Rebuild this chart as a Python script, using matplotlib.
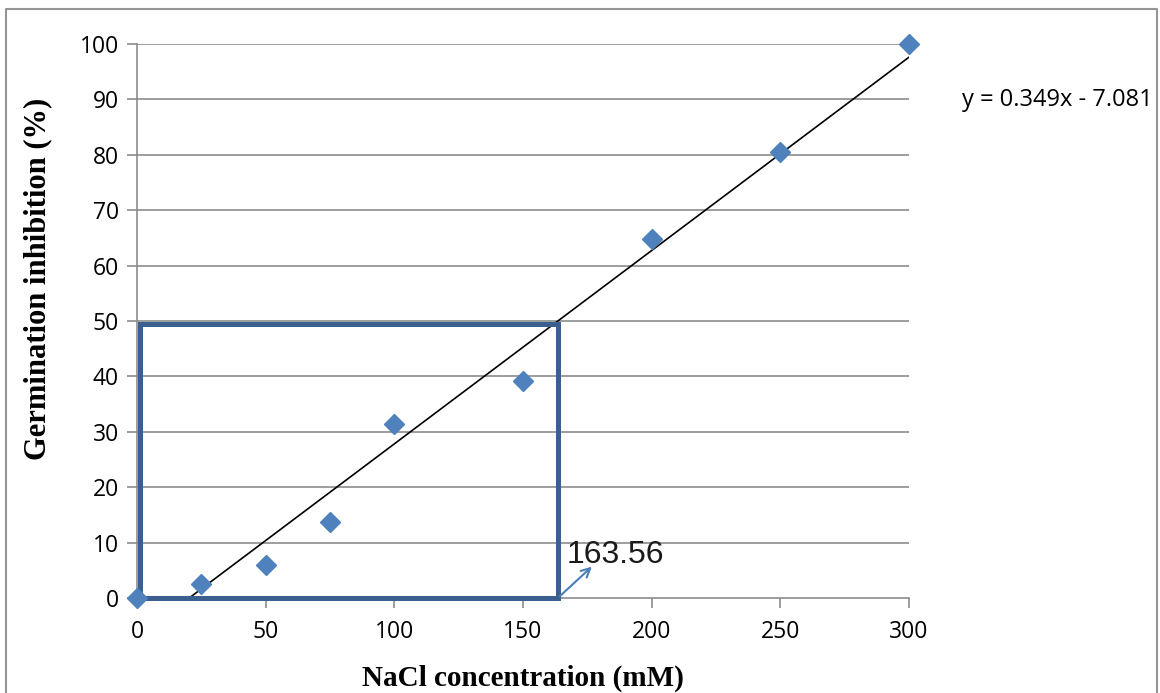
import numpy as np
import matplotlib.pyplot as plt
from matplotlib.lines import Line2D

# NaCl concentration (mM) vs. germination inhibition (%)
nacl_mm = [0, 25, 50, 75, 100, 150, 200, 250, 300]
inhibition = [0, 2.5, 6.0, 13.8, 31.4, 39.2, 64.8, 80.5, 100]

# linear trend y = a*x + b
slope = 0.349
intercept = -7.081
ic50 = 163.56
half_level = 49.5

x_ticks = [0, 50, 100, 150, 200, 250, 300]
y_ticks = list(range(0, 101, 10))

fig = plt.figure(figsize=(11.6, 6.93), dpi=100)
ax = fig.add_axes([0.1181, 0.1371, 0.6655, 0.7994])

# grid and axes styling
grid_col = '#8c8c8c'
for y in y_ticks[1:]:
    ax.axhline(y, color=grid_col, lw=1.2, zorder=1)
for side in ['top', 'right']:
    ax.spines[side].set_visible(False)
for side in ['left', 'bottom']:
    ax.spines[side].set_color(grid_col)
    ax.spines[side].set_linewidth(1.2)

ax.set_xlim(0, 300)
ax.set_ylim(0, 100)
ax.set_xticks(x_ticks)
ax.set_yticks(y_ticks)
ax.tick_params(axis='both', direction='out', length=7, width=1.2,
               color=grid_col, labelsize=16.5)
ax.tick_params(axis='x', pad=9)
ax.tick_params(axis='y', pad=6)
for lab in ax.get_xticklabels() + ax.get_yticklabels():
    lab.set_fontfamily('Open Sans')

# trend line, clipped at y = 0
xs = np.linspace(0, 300, 301)
ys = slope * xs + intercept
keep = ys >= 0
ax.plot(xs[keep], ys[keep], color='black', lw=1.2, zorder=3)

# 50 % inhibition box
box_col = '#3b5f8e'
ax.plot([1.2, 1.2, ic50, ic50, 1.2], [0, half_level, half_level, 0, 0],
        color=box_col, lw=3.6, zorder=4, clip_on=False,
        solid_joinstyle='miter')

ax.plot(nacl_mm, inhibition, 'D', color='#4f81bd', markersize=10,
        zorder=5, clip_on=False)

# arrow pointing to the IC50 value
ax.annotate('', xy=(ic50 + 14, 6), xytext=(ic50, 0),
            arrowprops=dict(arrowstyle='->', color='#4a7ebb', lw=1.5,
                            mutation_scale=16), zorder=6)
ax.text(ic50 + 3.5, 5.0, f'{ic50:.2f}', fontsize=23, family='Liberation Sans',
        color='#1a1a1a', va='bottom', ha='left')

ax.set_xlabel('NaCl concentration (mM)', fontsize=21, fontweight='bold',
              family='Liberation Serif', labelpad=15)
ax.set_ylabel('Germination inhibition (%)', fontsize=22, fontweight='bold',
              family='Liberation Serif')
ax.yaxis.set_label_coords(-0.110, 0.576)

fig.text(0.8293, 0.856, f'y = {slope}x - {abs(intercept)}', fontsize=17,
         family='Open Sans', va='center', ha='left')

# outer chart frame
frame_col = '#959595'
fl, fr, ft = 6 / 1160, 1157 / 1160, 1 - 9 / 693
fig.add_artist(Line2D([fl, fl, fr, fr], [0, ft, ft, 0],
                      transform=fig.transFigure, color=frame_col, lw=1.5))

fig.savefig('out.png', dpi=100)
